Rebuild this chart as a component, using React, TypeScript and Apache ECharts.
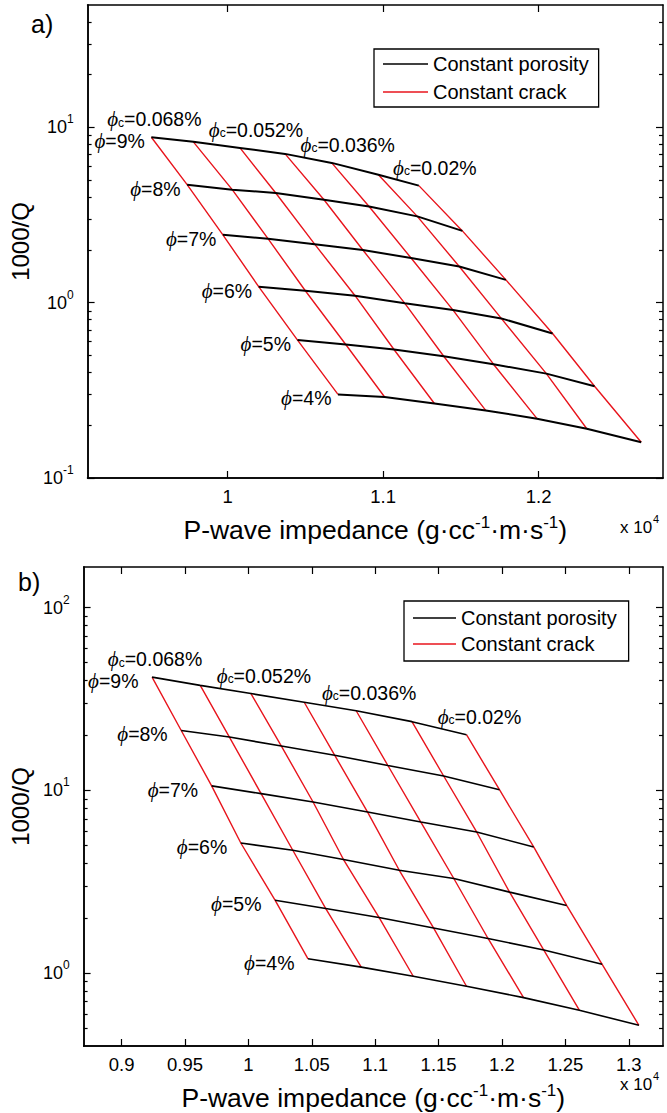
import { useEffect, useRef } from 'react';
import * as echarts from 'echarts';

// ---------- Data ----------
const porosityLevels = ['9', '8', '7', '6', '5', '4'];
const crackLevels = ['0.068', '0.06', '0.052', '0.044', '0.036', '0.028', '0.02'];
const labeledCrackIndex = [0, 2, 4, 6];

// Panel a (impedance in units of 1e4, 1000/Q)
const impA9 = [0.951, 0.978, 1.008, 1.037, 1.067, 1.097, 1.123];
const qA9 = [8.8, 8.28, 7.65, 7.07, 6.28, 5.38, 4.66];
const impA8 = [0.974, 1.003, 1.031, 1.062, 1.091, 1.122, 1.151];
const qA8 = [4.72, 4.42, 4.23, 3.87, 3.54, 3.11, 2.57];
const impA7 = [0.997, 1.026, 1.056, 1.087, 1.118, 1.149, 1.179];
const qA7 = [2.44, 2.32, 2.16, 2.0, 1.8, 1.61, 1.35];
const impA6 = [1.02, 1.05, 1.082, 1.114, 1.145, 1.176, 1.209];
const qA6 = [1.235, 1.171, 1.097, 0.992, 0.908, 0.814, 0.668];
const impA5 = [1.045, 1.076, 1.107, 1.139, 1.171, 1.205, 1.236];
const qA5 = [0.612, 0.578, 0.541, 0.495, 0.446, 0.394, 0.334];
const impA4 = [1.071, 1.101, 1.133, 1.166, 1.199, 1.231, 1.266];
const qA4 = [0.3, 0.29, 0.266, 0.243, 0.218, 0.191, 0.16];

// Panel b
const impB9 = [0.924, 0.962, 1.002, 1.044, 1.085, 1.129, 1.172];
const qB9 = [41.7, 37.6, 33.9, 30.4, 27.3, 23.8, 20.2];
const impB8 = [0.947, 0.985, 1.026, 1.068, 1.11, 1.154, 1.198];
const qB8 = [21.3, 19.6, 17.5, 15.6, 13.7, 12.0, 10.1];
const impB7 = [0.971, 1.01, 1.051, 1.094, 1.136, 1.18, 1.225];
const qB7 = [10.6, 9.61, 8.65, 7.62, 6.72, 5.93, 4.91];
const impB6 = [0.994, 1.035, 1.075, 1.119, 1.162, 1.206, 1.251];
const qB6 = [5.16, 4.71, 4.19, 3.66, 3.3, 2.78, 2.35];
const impB5 = [1.021, 1.061, 1.103, 1.146, 1.189, 1.233, 1.279];
const qB5 = [2.51, 2.26, 2.02, 1.77, 1.55, 1.34, 1.12];
const impB4 = [1.047, 1.089, 1.13, 1.172, 1.217, 1.261, 1.308];
const qB4 = [1.2, 1.08, 0.963, 0.849, 0.736, 0.628, 0.519];

// Ticks
const xTicksA = [1, 1.1, 1.2];
const yTicksA = [0.1, 1, 10];
const yMinorA = [0.2, 0.3, 0.4, 0.5, 0.6, 0.7, 0.8, 0.9, 2, 3, 4, 5, 6, 7, 8, 9, 20, 30, 40];
const xTicksB = [0.9, 0.95, 1, 1.05, 1.1, 1.15, 1.2, 1.25, 1.3];
const yTicksB = [1, 10, 100];
const yMinorB = [0.5, 0.6, 0.7, 0.8, 0.9, 2, 3, 4, 5, 6, 7, 8, 9, 20, 30, 40, 50, 60, 70, 80, 90];

const legendNames = ['Constant porosity', 'Constant crack'];
const yTitle = '1000/Q';
const xTitle = 'P-wave impedance (g·cc{s|-1}·m·s{s|-1})';

// ---------- Styling ----------
const FONT = "'Liberation Sans', Arial, Helvetica, sans-serif";
const SERIF = "'Liberation Serif', 'DejaVu Serif', serif";
const RED = '#e8141c';
const BLACK = '#000';

const annoRich = {
  p: { fontFamily: SERIF, fontStyle: 'italic', fontSize: 21, color: BLACK },
  c: { fontFamily: FONT, fontSize: 12, color: BLACK, padding: [7, 0, 0, 0] },
  t: { fontFamily: FONT, fontSize: 19.5, color: BLACK },
};

const supRich = {
  b: { fontFamily: FONT, fontSize: 18, color: BLACK },
  s: { fontFamily: FONT, fontSize: 12, color: BLACK, padding: [0, 0, 16, 0] },
};

const axisLineStyle = { color: BLACK, width: 1.5 };
const tickLineStyle = { color: BLACK, width: 1.2 };

function tickOnly(len: number, values: number[]) {
  return { show: true, inside: true, length: len, customValues: values, lineStyle: tickLineStyle };
}

function xAxes(gridIndex: number, min: number, max: number, ticks: number[]) {
  const common: any = {
    type: 'value',
    gridIndex,
    min,
    max,
    splitLine: { show: false },
    axisLine: { show: true, onZero: false, lineStyle: axisLineStyle },
  };
  return [
    {
      ...common,
      position: 'bottom',
      axisTick: { show: false },
      axisLabel: {
        show: true,
        customValues: ticks,
        formatter: (v: number) => String(Number(v.toFixed(3))),
        fontSize: 18.5,
        fontFamily: FONT,
        color: BLACK,
        margin: 9,
      },
      name: xTitle,
      nameLocation: 'middle',
      nameGap: 36,
      nameTextStyle: {
        fontSize: 26.5,
        fontFamily: FONT,
        color: BLACK,
        rich: { s: { fontSize: 17, fontFamily: FONT, color: BLACK, padding: [0, 0, 15, 0] } },
      },
    },
    { ...common, position: 'bottom', axisTick: tickOnly(7, ticks), axisLabel: { show: false } },
    { ...common, position: 'top', axisTick: tickOnly(7, ticks), axisLabel: { show: false } },
  ];
}

function yAxes(gridIndex: number, min: number, max: number, major: number[], minor: number[]) {
  const common: any = {
    type: 'log',
    logBase: 10,
    gridIndex,
    min,
    max,
    splitLine: { show: false },
    axisLine: { show: true, onZero: false, lineStyle: axisLineStyle },
  };
  return [
    {
      ...common,
      position: 'left',
      axisTick: { show: false },
      axisLabel: {
        show: true,
        customValues: major,
        formatter: (v: number) => `{b|10}{s|${Math.round(Math.log10(v))}}`,
        rich: supRich,
        margin: 14,
      },
      name: yTitle,
      nameLocation: 'middle',
      nameGap: 44,
      nameTextStyle: { fontSize: 24, fontFamily: FONT, color: BLACK },
    },
    { ...common, position: 'left', axisTick: tickOnly(7, major), axisLabel: { show: false } },
    { ...common, position: 'left', axisLine: { show: false }, axisTick: tickOnly(4, minor), axisLabel: { show: false } },
    { ...common, position: 'right', axisTick: tickOnly(7, major), axisLabel: { show: false } },
    { ...common, position: 'right', axisLine: { show: false }, axisTick: tickOnly(4, minor), axisLabel: { show: false } },
  ];
}

function labeledPoint(x: number, y: number, label: any) {
  return {
    value: [x, y],
    symbol: 'circle',
    symbolSize: 1,
    itemStyle: { color: 'transparent', borderWidth: 0 },
    label: { show: true, color: BLACK, rich: annoRich, ...label },
  };
}

function panelSeries(
  imps: number[][],
  qs: number[][],
  xAxisIndex: number,
  yAxisIndex: number,
  cfg: { blackWidth: number; phiDistance: number; crackDx: number }
) {
  const out: any[] = [];
  for (let j = 0; j < crackLevels.length; j++) {
    const data = imps.map((imp, i) => {
      if (i === 0 && labeledCrackIndex.includes(j)) {
        return labeledPoint(imp[j], qs[i][j], {
          position: 'top',
          distance: 7,
          offset: [j === 0 ? 3 : cfg.crackDx, 0],
          formatter: `{p|ϕ}{c|c}{t|=${crackLevels[j]}%}`,
        });
      }
      return [imp[j], qs[i][j]];
    });
    out.push({
      type: 'line',
      name: legendNames[1],
      xAxisIndex,
      yAxisIndex,
      data,
      symbol: 'none',
      lineStyle: { color: RED, width: 1.4 },
      itemStyle: { color: RED },
      z: 2,
      silent: true,
    });
  }
  imps.forEach((imp, i) => {
    const data = imp.map((x, j) =>
      j === 0
        ? labeledPoint(x, qs[i][j], {
            position: 'left',
            distance: cfg.phiDistance,
            offset: [0, 4],
            formatter: `{p|ϕ}{t|=${porosityLevels[i]}%}`,
          })
        : [x, qs[i][j]]
    );
    out.push({
      type: 'line',
      name: legendNames[0],
      xAxisIndex,
      yAxisIndex,
      data,
      symbol: 'none',
      lineStyle: { color: BLACK, width: cfg.blackWidth },
      itemStyle: { color: BLACK },
      z: 3,
      silent: true,
    });
  });
  return out;
}

function buildOption() {
  const impsA = [impA9, impA8, impA7, impA6, impA5, impA4];
  const qsA = [qA9, qA8, qA7, qA6, qA5, qA4];
  const impsB = [impB9, impB8, impB7, impB6, impB5, impB4];
  const qsB = [qB9, qB8, qB7, qB6, qB5, qB4];

  const legendBase = {
    orient: 'vertical',
    data: legendNames,
    selectedMode: false,
    icon: 'rect',
    itemHeight: 1.6,
    borderColor: BLACK,
    borderWidth: 1.3,
    backgroundColor: '#fff',
    textStyle: { fontSize: 20, fontFamily: FONT, color: BLACK },
  };

  const expText = (x: number, y: number) => ({
    type: 'group',
    children: [
      { type: 'text', x, y, style: { text: 'x 10', fontFamily: FONT, fontSize: 17, fill: BLACK, verticalAlign: 'middle' } },
      { type: 'text', x: x + 33, y: y - 8, style: { text: '4', fontFamily: FONT, fontSize: 11, fill: BLACK, verticalAlign: 'middle' } },
    ],
  });

  return {
    animation: false,
    backgroundColor: '#fff',
    grid: [
      { left: 84, top: 5, width: 579, height: 473 },
      { left: 82, top: 567, width: 581, height: 479 },
    ],
    xAxis: [...xAxes(0, 0.91, 1.28, xTicksA), ...xAxes(1, 0.87, 1.327, xTicksB)],
    yAxis: [...yAxes(0, 0.1, 50, yTicksA, yMinorA), ...yAxes(1, 0.4, 167, yTicksB, yMinorB)],
    legend: [
      { ...legendBase, left: 374, top: 49, itemWidth: 45, itemGap: 8, padding: [5, 10, 5, 9] },
      { ...legendBase, left: 404, top: 601, itemWidth: 43, itemGap: 6, padding: [7, 12, 7, 9] },
    ],
    graphic: [
      { type: 'text', x: 31, y: 11, style: { text: 'a)', fontFamily: FONT, fontSize: 25, fill: BLACK } },
      { type: 'text', x: 18, y: 569, style: { text: 'b)', fontFamily: FONT, fontSize: 25, fill: BLACK } },
      expText(620, 527),
      expText(620, 1084),
    ],
    series: [
      ...panelSeries(impsA, qsA, 0, 0, { blackWidth: 2, phiDistance: 6, crackDx: 16 }),
      ...panelSeries(impsB, qsB, 3, 5, { blackWidth: 1.6, phiDistance: 13, crackDx: 13 }),
    ],
  };
}

export default function App() {
  const ref = useRef<HTMLDivElement>(null);
  useEffect(() => {
    const chart = echarts.init(ref.current as HTMLDivElement, undefined, { renderer: 'svg' });
    chart.setOption(buildOption() as any);
    return () => chart.dispose();
  }, []);
  return (
    <div
      ref={ref}
      style={{ position: 'absolute', left: 0, top: 0, width: 667, height: 1113, background: '#fff' }}
    />
  );
}
